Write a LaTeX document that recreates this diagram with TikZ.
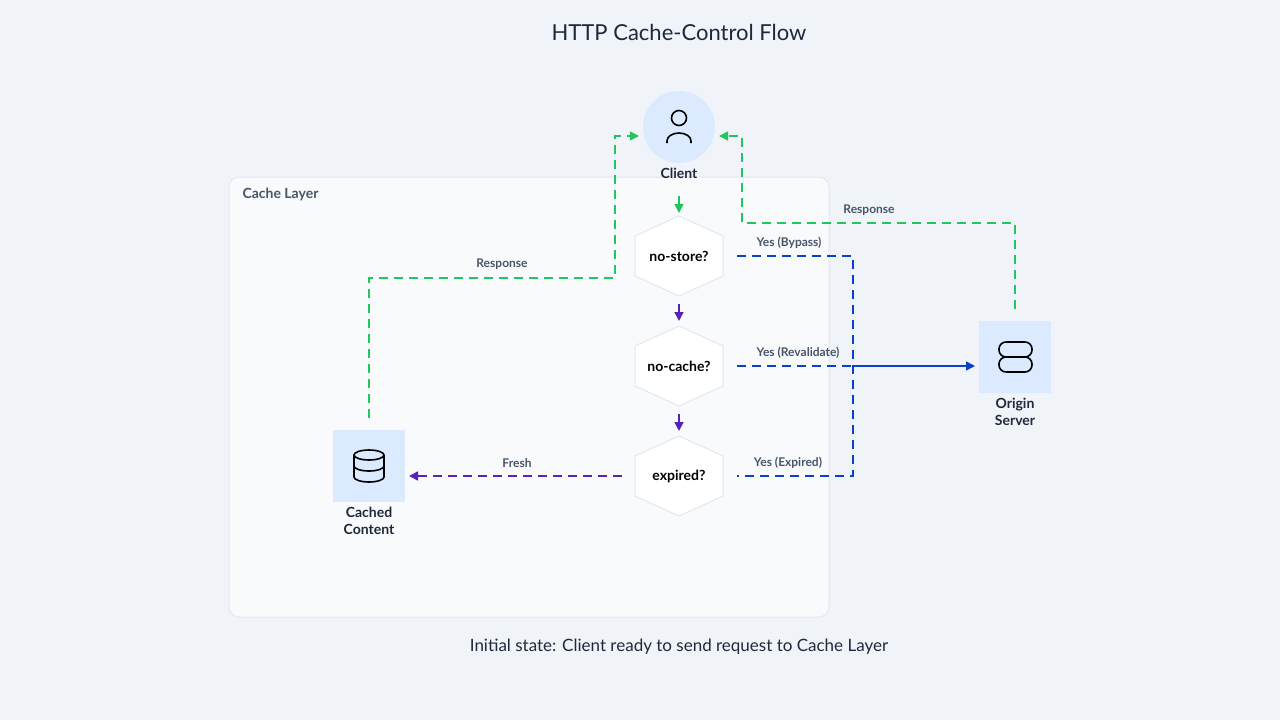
\documentclass[tikz,border=0pt]{standalone}
\usepackage{fontspec}
\setmainfont{Lato}
\usetikzlibrary{arrows.meta}
\definecolor{bg}{HTML}{F0F4F9}
\definecolor{layer}{HTML}{F8FAFC}
\definecolor{layerb}{HTML}{E2E8F0}
\definecolor{lb}{HTML}{DBEAFE}
\definecolor{gr}{HTML}{22C55E}
\definecolor{bl}{HTML}{0B40C8}
\definecolor{pu}{HTML}{5B21B6}
\definecolor{tx}{HTML}{1E293B}
\definecolor{lt}{HTML}{475569}
\begin{document}
\begin{tikzpicture}[x=1pt,y=-1pt,
  lbl/.style={font=\fontsize{14}{17}\selectfont\bfseries,text=tx,align=center},
  el/.style={font=\fontsize{12}{14}\selectfont\bfseries,text=lt},
  hex/.style={fill=white,draw=layerb,line width=1pt},
  dsh/.style={line width=1.6pt,dash pattern=on 9pt off 6pt},
  tip/.style={-{Triangle[length=9pt,width=9pt]}},
  icon/.style={draw=black,line width=1.6pt}]
\useasboundingbox (0,0) rectangle (1280,720);
\fill[bg] (0,0) rectangle (1280,720);
\node[font=\fontsize{22}{26}\selectfont,text=tx] (title) at (679,32) {HTTP Cache-Control Flow};
\draw[fill=layer,draw=layerb,line width=1pt,rounded corners=10pt] (229,177) rectangle (829,617);
\node[anchor=west,font=\fontsize{14}{17}\selectfont\bfseries,text=lt] (layer) at (239,194) {Cache Layer};
% client
\fill[lb] (679,127) circle (36);
\node (client) at (679,127) {};
\draw[icon] (679,118) circle (7.5);
\draw[icon] (667,143) -- (667,141) arc (180:360:12 and 8) -- (691,143);
\node[lbl] (clientl) at (679,173) {Client};
% hexagons
\foreach \n/\y/\t in {ns/256/no-store?,nc/366/no-cache?,ex/476/expired?}{
  \draw[hex] (679,\y-40) -- (723,\y-20) -- (723,\y+20) -- (679,\y+40) -- (635,\y+20) -- (635,\y-20) -- cycle;
  \node[font=\fontsize{14}{17}\selectfont\bfseries,text=black] (\n) at (679,\y) {\t};
}
% origin
\fill[lb] (979,321) rectangle (1051,393);
\node (origin) at (1015,357) {};
\draw[icon,rounded corners=7pt] (999,342) rectangle (1032,357);
\draw[icon,rounded corners=7pt] (999,357) rectangle (1032,372);
\node[lbl] (originl) at (1015,412) {Origin\\Server};
% cached
\fill[lb] (333,430) rectangle (405,502);
\node (cached) at (369,466) {};
\draw[icon] (354,455) -- (354,477) arc (180:360:15 and -5) -- (384,455);
\draw[icon] (369,455) ellipse (15 and 5);
\draw[icon] (354,466) arc (180:360:15 and -5);
\node[lbl] (cachedl) at (369,521) {Cached\\Content};
% edges
\coordinate (a1) at (679,196); \coordinate (a2) at (679,213);
\draw[gr,line width=1.6pt,tip] (a1) -- (a2);
\coordinate (b1) at (679,304); \coordinate (b2) at (679,321);
\draw[pu,line width=1.6pt,tip] (b1) -- (b2);
\coordinate (c1) at (679,414); \coordinate (c2) at (679,431);
\draw[pu,line width=1.6pt,tip] (c1) -- (c2);
\coordinate (j) at (853,366);
\draw[bl,dsh] (737,256) -- (853,256) -- (853,476) -- (737,476);
\draw[bl,dsh] (737,366) -- (j);
\coordinate (oe) at (975,366);
\draw[bl,line width=1.6pt,tip] (j) -- (oe);
\node[el] at (789,243) {Yes (Bypass)};
\node[el] at (798,353) {Yes (Revalidate)};
\node[el] at (788,463) {Yes (Expired)};
\coordinate (f1) at (622,476); \coordinate (f2) at (409,476);
\draw[pu,dsh,tip] (f1) -- (f2);
\node[el] at (517,463) {Fresh};
\coordinate (r1) at (369,418); \coordinate (r2) at (639,136);
\draw[gr,dsh,tip] (r1) -- (369,278) -- (615,278) -- (615,136) -- (r2);
\node[el] at (502,264) {Response};
\coordinate (s1) at (1015,309); \coordinate (s2) at (719,136);
\draw[gr,dsh,tip] (s1) -- (1015,223) -- (742,223) -- (742,136) -- (s2);
\node[el] at (869,210) {Response};
\node[font=\fontsize{17}{20}\selectfont,text=tx] (foot) at (679,647) {Initial state: Client ready to send request to Cache Layer};
\end{tikzpicture}
\end{document}
